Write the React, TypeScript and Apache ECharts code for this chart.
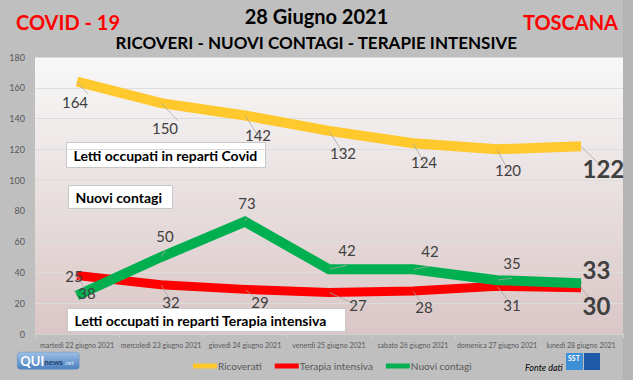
import React, { useEffect, useRef } from "react";
import * as echarts from "echarts";

const categories = [
  "martedì 22 giugno 2021",
  "mercoledì 23 giugno 2021",
  "giovedì 24 giugno 2021",
  "venerdì 25 giugno 2021",
  "sabato 26 giugno 2021",
  "domenica 27 giugno 2021",
  "lunedì 28 giugno 2021",
];
const ricoverati = [164, 150, 142, 132, 124, 120, 122];
const terapiaIntensiva = [38, 32, 29, 27, 28, 31, 30];
const nuoviContagi = [25, 50, 73, 42, 42, 35, 33];
const yTicks = { min: 0, max: 180, interval: 20 };

// label nudges (styling only)
const ricNudge = [[-2, 0], [4, 5], [13, 0], [14, 2], [11, -1], [11, 1], [-2, 22]];
const tiNudge = [[10, 1], [10, 1], [15, -3], [29, -3], [11, 0], [15, 3], [-2, 18]];
const ncNudge = [[-3, 0], [4, -1], [2, 1], [18, 1], [17, 2], [15, 3], [-2, -14]];

const FONT = "Lato, 'Open Sans', sans-serif";
const LBL = "#404040";

function buildData(values: number[], nudge: number[][], pos: string, dist: number) {
  return values.map((v, i) => {
    const last = i === values.length - 1;
    return {
      value: v,
      label: last
        ? {
            show: true,
            position: "right",
            distance: 3,
            offset: nudge[i],
            fontSize: 24,
            fontWeight: "bold",
            color: LBL,
            fontFamily: FONT,
          }
        : {
            show: true,
            position: pos,
            distance: dist,
            offset: nudge[i],
            fontSize: 15,
            color: LBL,
            fontFamily: FONT,
          },
    };
  });
}

function textBox(x: number, y: number, w: number, h: number, text: string) {
  return {
    type: "group",
    left: x,
    top: y,
    children: [
      {
        type: "rect",
        shape: { x: 0, y: 0, width: w, height: h },
        style: { fill: "#ffffff", stroke: "#c8c8c8", lineWidth: 1 },
      },
      {
        type: "text",
        x: 7,
        y: h / 2,
        style: {
          text,
          fill: "#000000",
          font: `bold 14px ${FONT}`,
          verticalAlign: "middle",
        },
      },
    ],
  };
}

export default function App() {
  const ref = useRef<HTMLDivElement>(null);
  useEffect(() => {
    document.body.style.margin = "0";
    const chart = echarts.init(ref.current!, null, { renderer: "svg" });
    const seriesCommon = {
      type: "line",
      symbol: "circle",
      symbolSize: 1,
      showSymbol: true,
      z: 2,
      labelLine: { show: true, lineStyle: { color: "#a6a6a6", width: 0.8 } },
    };
    const option: any = {
      animation: false,
      backgroundColor: "#bfbfbf",
      textStyle: { fontFamily: FONT },
      grid: {
        left: 35,
        right: 10,
        top: 57,
        bottom: 46,
        show: true,
        borderWidth: 0,
        backgroundColor: new echarts.graphic.LinearGradient(0, 0, 0, 1, [
          { offset: 0, color: "#f8f8f8" },
          { offset: 1, color: "#dac6c6" },
        ]),
      },
      xAxis: {
        type: "category",
        data: categories,
        boundaryGap: true,
        axisLine: { show: true, lineStyle: { color: "#d0d0d0" } },
        axisTick: { show: true, length: 4, lineStyle: { color: "#d0d0d0" } },
        axisLabel: { color: "#595959", fontSize: 7, margin: 7, fontFamily: FONT, interval: 0 },
      },
      yAxis: {
        type: "value",
        min: yTicks.min,
        max: yTicks.max,
        interval: yTicks.interval,
        axisLine: { show: false },
        axisTick: { show: false },
        axisLabel: { color: "#595959", fontSize: 9, margin: 10, fontFamily: FONT },
        splitLine: { lineStyle: { color: "#dcdcdc", width: 1 } },
      },
      legend: {
        left: 188,
        top: 356,
        itemWidth: 24,
        itemHeight: 5,
        itemGap: 13,
        icon: "rect",
        textStyle: { color: "#595959", fontSize: 10, fontFamily: FONT, padding: [0, 0, 0, -4] },
        data: ["Ricoverati", "Terapia intensiva", "Nuovi contagi"],
      },
      series: [
        {
          ...seriesCommon,
          name: "Ricoverati",
          data: buildData(ricoverati, ricNudge, "bottom", 12),
          lineStyle: { color: "#ffc82c", width: 10, join: "miter" },
          itemStyle: { color: "#ffc82c" },
        },
        {
          ...seriesCommon,
          name: "Terapia intensiva",
          data: buildData(terapiaIntensiva, tiNudge, "bottom", 8),
          lineStyle: { color: "#ff0000", width: 9, join: "miter" },
          itemStyle: { color: "#ff0000" },
        },
        {
          ...seriesCommon,
          name: "Nuovi contagi",
          data: buildData(nuoviContagi, ncNudge, "top", 12),
          lineStyle: { color: "#00b050", width: 10, join: "miter" },
          itemStyle: { color: "#00b050" },
        },
      ],
      graphic: [
        {
          type: "rect",
          shape: { x: 623, y: 0, width: 10, height: 380 },
          style: { fill: "#b4b4b4" },
          z: -1,
        },
        {
          type: "text",
          left: 16,
          top: 12,
          style: { text: "COVID - 19", fill: "#ff0000", font: `bold 20px ${FONT}` },
        },
        {
          type: "text",
          left: "center",
          top: 6,
          style: { text: "28 Giugno 2021", fill: "#000000", font: `bold 20px ${FONT}` },
        },
        {
          type: "text",
          left: "center",
          top: 34,
          style: {
            text: "RICOVERI - NUOVI CONTAGI - TERAPIE INTENSIVE",
            fill: "#000000",
            font: `bold 17px ${FONT}`,
          },
        },
        {
          type: "text",
          right: 15,
          top: 12,
          style: { text: "TOSCANA", fill: "#ff0000", font: `bold 20px ${FONT}` },
        },
        textBox(66, 142, 199, 25, "Letti occupati in reparti Covid"),
        textBox(68, 185, 104, 23, "Nuovi contagi"),
        textBox(67, 308, 278, 23, "Letti occupati in reparti Terapia intensiva"),
        // QUInews logo
        {
          type: "group",
          left: 17,
          top: 352,
          children: [
            {
              type: "rect",
              shape: { x: 0, y: 0, width: 62, height: 17, r: 3 },
              style: {
                fill: new echarts.graphic.LinearGradient(0, 0, 0, 1, [
                  { offset: 0, color: "#9cc0e6" },
                  { offset: 1, color: "#4a7fbf" },
                ]),
                stroke: "#6d8fb8",
                lineWidth: 0.5,
              },
            },
            {
              type: "text",
              x: 3,
              y: 9,
              style: { text: "QUI", fill: "#ffffff", font: `bold 13px ${FONT}`, verticalAlign: "middle" },
            },
            {
              type: "text",
              x: 27,
              y: 10,
              style: { text: "news", fill: "#1f3f6a", font: `bold 8px ${FONT}`, verticalAlign: "middle" },
            },
            {
              type: "text",
              x: 47,
              y: 10,
              style: { text: ".net", fill: "#dfe9f5", font: `italic 6px ${FONT}`, verticalAlign: "middle" },
            },
          ],
        },
        {
          type: "text",
          left: 525,
          top: 363,
          style: { text: "Fonte dati", fill: "#000000", font: `italic 9px ${FONT}` },
        },
        // SST logo
        {
          type: "group",
          left: 566,
          top: 353,
          children: [
            {
              type: "rect",
              shape: { x: 0, y: 0, width: 17, height: 17 },
              style: { fill: "#3d8fd6" },
            },
            {
              type: "text",
              x: 2,
              y: 1,
              style: { text: "SST", fill: "#ffffff", font: `bold 7px ${FONT}` },
            },
            {
              type: "rect",
              shape: { x: 18, y: 0, width: 16, height: 17 },
              style: { fill: "#1e5aa8" },
            },
          ],
        },
      ],
    };
    chart.setOption(option);
    return () => chart.dispose();
  }, []);
  return <div ref={ref} style={{ width: 633, height: 380 }} />;
}
